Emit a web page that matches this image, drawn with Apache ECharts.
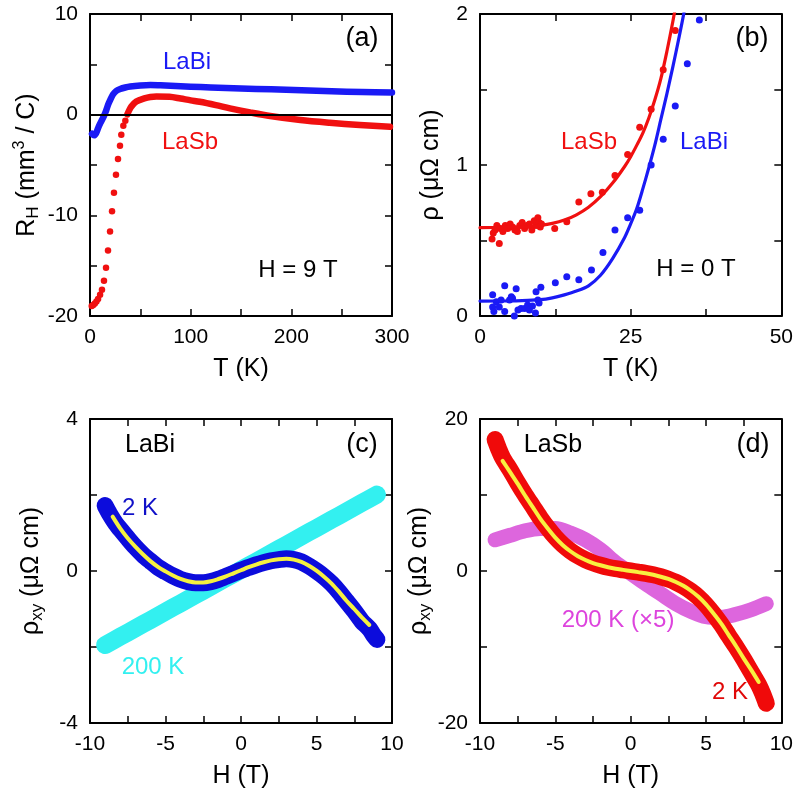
<!DOCTYPE html>
<html>
<head>
<meta charset="utf-8">
<script src="https://cdn.jsdelivr.net/npm/echarts@6/dist/echarts.min.js"></script>
<style>html,body{margin:0;padding:0;background:#fff}#c{width:796px;height:792px}</style>
</head>
<body>
<div id="c"></div>
<script>
// ---------- Panel (a): Hall coefficient vs T at H = 9 T ----------
const aLaBi = [[2,-1.9],[4,-2.05],[6,-1.85],[8,-1.35],[10,-0.9],[12,-0.5],[14,-0.1],[16,0.4],[18,1.0],[20,1.45],[22.8,2.0],[26,2.35],[30,2.55],[35,2.7],[40,2.8],[50,2.9],[60,2.95],[70,2.92],[80,2.88],[100,2.78],[120,2.7],[150,2.6],[180,2.52],[210,2.42],[240,2.33],[270,2.25],[300,2.2]];
const aLaSbDense = [[37.1,0.03],[39,0.45],[41,0.8],[46,1.3],[54,1.62],[60,1.76],[66,1.8],[79,1.78],[90,1.6],[100,1.42],[109,1.28],[125,0.95],[139,0.63],[159,0.23],[179,-0.13],[209,-0.53],[238,-0.8],[268,-1.03],[298,-1.2]];
const aLaSbDots = [[1.7,-19.0],[3.2,-18.9],[4.8,-18.75],[6.4,-18.55],[8.0,-18.3],[10.0,-17.9],[11.9,-17.4],[13.9,-16.5],[15.9,-15.2],[17.9,-13.5],[19.9,-11.6],[21.9,-9.6],[23.8,-7.75],[25.8,-5.96],[27.8,-4.4],[29.8,-3.1],[31.1,-2.0],[33.1,-1.1],[35.1,-0.6]];

// ---------- Panel (b): resistivity vs T at H = 0 ----------
const bLaSbDots = [[2.0,0.51],[2.2,0.55],[2.5,0.57],[2.8,0.6],[3.2,0.48],[3.4,0.58],[3.8,0.56],[4.2,0.6],[4.6,0.58],[5.0,0.61],[5.4,0.59],[5.8,0.57],[6.2,0.56],[6.6,0.6],[7.0,0.62],[7.4,0.58],[7.8,0.6],[8.2,0.61],[8.6,0.57],[9.0,0.63],[9.3,0.6],[9.6,0.65],[9.8,0.62],[10.0,0.59],[10.2,0.61],[12.4,0.58],[14.4,0.625],[16.4,0.755],[18.4,0.81],[20.3,0.82],[22.4,0.93],[24.5,1.07],[26.5,1.25],[28.4,1.37],[30.4,1.63],[32.4,1.89]];
const bLaSbFit = [[0,0.585],[4,0.587],[8,0.592],[10,0.6],[12,0.613],[14,0.635],[16,0.67],[18,0.72],[20,0.79],[22,0.88],[24,0.99],[25,1.055],[26,1.13],[27,1.21],[28,1.31],[29,1.43],[30,1.57],[31,1.75],[32,1.95],[33,2.17]];
const bLaBiDots = [[2.1,0.14],[2.7,0.095],[2.1,0.06],[2.3,0.03],[3.2,0.06],[3.5,0.106],[4.1,0.2],[4.1,0.03],[4.9,0.106],[5.2,0.128],[5.4,0.117],[5.7,0.0],[6.0,0.18],[6.3,0.04],[6.8,0.05],[7.4,0.05],[7.9,0.073],[8.2,0.04],[8.7,0.066],[9.2,0.02],[9.3,0.16],[9.6,0.106],[9.8,0.086],[10.1,0.19],[12.5,0.22],[14.4,0.26],[16.4,0.24],[18.5,0.305],[20.4,0.42],[22.4,0.57],[24.5,0.65],[26.5,0.70],[28.4,1.0],[30.4,1.17],[32.4,1.39],[34.4,1.67],[36.4,1.96]];
const bLaBiFit = [[0,0.099],[6,0.1],[10,0.108],[12,0.12],[14,0.14],[16,0.165],[18,0.2],[20,0.27],[22,0.38],[24,0.52],[25,0.61],[26,0.71],[27,0.84],[28,0.98],[29,1.13],[30,1.3],[31,1.47],[32,1.65],[33,1.84],[34,2.04],[35,2.25]];

// ---------- Panel (c): LaBi rho_xy vs H ----------
const cLaBi2K = [[-9,1.72],[-8.7,1.5],[-8.3,1.25],[-8,1.1],[-7.5,0.86],[-7,0.63],[-6.5,0.43],[-6,0.26],[-5.5,0.1],[-5,-0.02],[-4.5,-0.13],[-4,-0.22],[-3.5,-0.28],[-3,-0.31],[-2.5,-0.31],[-2,-0.28],[-1.5,-0.22],[-1,-0.14],[-0.5,-0.06],[0,0.02],[0.5,0.09],[1,0.16],[1.5,0.22],[2,0.27],[2.5,0.3],[3,0.32],[3.5,0.3],[4,0.24],[4.5,0.13],[5,0.0],[5.5,-0.15],[6,-0.33],[6.5,-0.55],[7,-0.8],[7.5,-1.05],[8,-1.32],[8.5,-1.52],[8.8,-1.7],[9,-1.8]];
const cLaBiFit = [[-8.5,1.43],[-8,1.12],[-7.5,0.86],[-7,0.64],[-6.5,0.44],[-6,0.26],[-5.5,0.11],[-5,-0.01],[-4.5,-0.12],[-4,-0.21],[-3.5,-0.27],[-3,-0.3],[-2.5,-0.3],[-2,-0.27],[-1.5,-0.21],[-1,-0.14],[-0.5,-0.06],[0,0.02],[0.5,0.1],[1,0.17],[1.5,0.23],[2,0.28],[2.5,0.31],[3,0.32],[3.5,0.3],[4,0.24],[4.5,0.14],[5,0.01],[5.5,-0.15],[6,-0.33],[6.5,-0.55],[7,-0.79],[7.5,-1.0],[8,-1.22],[8.5,-1.42]];
const cLaBi200K = [[-9,-1.95],[-8,-1.73],[-7,-1.51],[-6,-1.29],[-5,-1.07],[-4,-0.85],[-3,-0.63],[-2,-0.41],[-1,-0.19],[0,0.03],[1,0.25],[2,0.47],[3,0.69],[4,0.91],[5,1.13],[6,1.35],[7,1.57],[8,1.79],[9,2.01]];

// ---------- Panel (d): LaSb rho_xy vs H ----------
const dLaSb2K = [[-9,17.3],[-8.75,16.0],[-8.5,14.9],[-8,13.3],[-7.5,11.6],[-7,10.0],[-6.5,8.5],[-6,7.0],[-5.5,5.65],[-5,4.45],[-4.5,3.45],[-4,2.65],[-3.5,2.0],[-3,1.48],[-2.5,1.07],[-2,0.76],[-1.5,0.5],[-1,0.3],[-0.5,0.15],[0,0],[0.5,-0.15],[1,-0.3],[1.5,-0.5],[2,-0.76],[2.5,-1.07],[3,-1.48],[3.5,-2.0],[4,-2.65],[4.5,-3.45],[5,-4.45],[5.5,-5.65],[6,-7.0],[6.5,-8.5],[7,-10.0],[7.5,-11.6],[8,-13.3],[8.5,-15.0],[8.75,-16.1],[9,-17.4]];
const dLaSbFit = [[-8.5,14.5],[-8,13.0],[-7.5,11.5],[-7,9.9],[-6.5,8.4],[-6,6.9],[-5.5,5.6],[-5,4.4],[-4.5,3.4],[-4,2.6],[-3.5,1.95],[-3,1.45],[-2.5,1.05],[-2,0.75],[-1.5,0.5],[-1,0.3],[-0.5,0.15],[0,0],[0.5,-0.15],[1,-0.3],[1.5,-0.5],[2,-0.75],[2.5,-1.05],[3,-1.45],[3.5,-1.95],[4,-2.6],[4.5,-3.4],[5,-4.4],[5.5,-5.6],[6,-6.9],[6.5,-8.4],[7,-9.9],[7.5,-11.5],[8,-13.0],[8.5,-14.6]];
const dLaSb200K = [[-9,4.1],[-8,4.7],[-7,5.3],[-6,5.6],[-5,5.6],[-4,5.0],[-3,4.1],[-2,2.8],[-1,1.1],[0,-0.3],[1,-1.7],[2,-3.0],[3,-4.3],[4,-5.3],[5,-6.0],[6,-6.1],[7,-5.7],[8,-5.1],[9,-4.3]];

// ---------- Axis ranges / tick spacing / labelled ticks ----------
const xRanges = [[0,300,50,100],[0,50,12.5,25],[-10,10,2.5,5],[-10,10,2.5,5]];
const yRanges = [[-20,10,5,10],[0,2,0.5,1],[-4,4,2,4],[-20,20,10,20]];

const FONT = '"Liberation Sans", Arial, Helvetica, sans-serif';
const chart = echarts.init(document.getElementById('c'), null, {renderer:'canvas'});

const grids = [
  {left:90, top:14, width:302, height:302},
  {left:480, top:14, width:303, height:302},
  {left:90, top:419, width:302, height:304},
  {left:480, top:419, width:303, height:304}
];
const xNames = ['T (K)','T (K)','H (T)','H (T)'];
const base = {fontSize:25, lineHeight:30, fontFamily:FONT, color:'#000'};
const rich = {
  n:{fontSize:25, lineHeight:30, fontFamily:FONT},
  sub:{fontSize:17, lineHeight:12, verticalAlign:'bottom', fontFamily:FONT},
  sup:{fontSize:16, lineHeight:12, verticalAlign:'top', fontFamily:FONT}
};
const yNames = ['{n|R}{sub|H}{n| (mm}{sup|3}{n| / C)}','{n|ρ (μΩ cm)}','{n|ρ}{sub|xy}{n| (μΩ cm)}','{n|ρ}{sub|xy}{n| (μΩ cm)}'];
const yGaps = [48,34,44,36];

function isMult(v, step){ const r = v/step; return Math.abs(r-Math.round(r))<1e-6; }

const xAxes = [], yAxes = [];
for (let i=0;i<4;i++){
  const [xmin,xmax,xint,xlab] = xRanges[i];
  const [ymin,ymax,yint,ylab] = yRanges[i];
  const common = {type:'value', gridIndex:i, splitLine:{show:false},
    axisLine:{show:true, onZero:false, lineStyle:{color:'#000', width:2}},
    axisTick:{show:true, inside:true, length:7, lineStyle:{color:'#000', width:1.5}}};
  xAxes.push(Object.assign({}, common, {position:'bottom', min:xmin, max:xmax, interval:xint,
    name:xNames[i], nameLocation:'middle', nameGap:38, nameTextStyle:base,
    axisLabel:{margin:11, fontSize:21, fontFamily:FONT, color:'#000',
      formatter:(v)=> isMult(v,xlab)? String(v):''}}));
  xAxes.push(Object.assign({}, common, {position:'top', min:xmin, max:xmax, interval:xint, axisLabel:{show:false}}));
  yAxes.push(Object.assign({}, common, {position:'left', min:ymin, max:ymax, interval:yint,
    name:yNames[i], nameLocation:'middle', nameGap:yGaps[i], nameTextStyle:Object.assign({}, base, {rich}),
    axisLabel:{margin:12, fontSize:21, fontFamily:FONT, color:'#000',
      formatter:(v)=> isMult(v,ylab)? String(v):''}}));
  yAxes.push(Object.assign({}, common, {position:'right', min:ymin, max:ymax, interval:yint, axisLabel:{show:false}}));
}

function line(g, data, color, width, extra){
  return Object.assign({type:'line', xAxisIndex:2*g, yAxisIndex:2*g, data, smooth:0.3, showSymbol:false, symbol:'none',
    lineStyle:{color, width, cap:'round', join:'round'}, silent:true, animation:false}, extra||{});
}
function dots(g, data, color, size){
  return {type:'scatter', xAxisIndex:2*g, yAxisIndex:2*g, data, symbol:'circle', symbolSize:size,
    itemStyle:{color, opacity:1}, silent:true, animation:false};
}

const series = [
  // (a)
  line(0, aLaBi, '#1a1af5', 6.5),
  line(0, aLaSbDense, '#f01010', 6.5),
  dots(0, aLaSbDots, '#f01010', 6.5),
  {type:'line', xAxisIndex:0, yAxisIndex:0, data:[], silent:true, animation:false,
    markLine:{silent:true, symbol:'none', label:{show:false}, lineStyle:{color:'#000', width:2, type:'solid'}, data:[{yAxis:0}]}},
  // (b)
  line(1, bLaSbFit, '#f01010', 3.2),
  line(1, bLaBiFit, '#1a1af5', 3.2),
  dots(1, bLaSbDots, '#f01010', 7),
  dots(1, bLaBiDots, '#1a1af5', 7),
  // (c)
  line(2, cLaBi200K, '#33f0f0', 18),
  line(2, cLaBi2K, '#0c0cdc', 17),
  line(2, cLaBiFit, '#f5f040', 4),
  // (d)
  line(3, dLaSb200K, '#dd66dd', 15),
  line(3, dLaSb2K, '#f00a0a', 17),
  line(3, dLaSbFit, '#f8f040', 4)
];

function txt(x, y, text, color, size){
  return {type:'text', x, y, silent:true, style:{text, fill:color, fontSize:size||24, fontFamily:FONT, align:'center', verticalAlign:'middle'}};
}
const graphic = [
  txt(362,39,'(a)','#000',27), txt(187,62,'LaBi','#1a1af5'), txt(190,142,'LaSb','#f01010'), txt(298,270,'H = 9 T','#000'),
  txt(752,39,'(b)','#000',27), txt(589,142,'LaSb','#f01010'), txt(704,142,'LaBi','#1a1af5'), txt(696,269,'H = 0 T','#000'),
  txt(150,445,'LaBi','#000',25), txt(362,445,'(c)','#000',27), txt(140,508,'2 K','#1010c8'), txt(153,667,'200 K','#33f0f0'),
  txt(553,445,'LaSb','#000',25), txt(753,445,'(d)','#000',27), txt(618,620,'200 K (×5)','#dd44dd'), txt(730,692,'2 K','#e00808')
];

chart.setOption({animation:false, backgroundColor:'#fff', grid:grids, xAxis:xAxes, yAxis:yAxes, series, graphic});
</script>
</body>
</html>
